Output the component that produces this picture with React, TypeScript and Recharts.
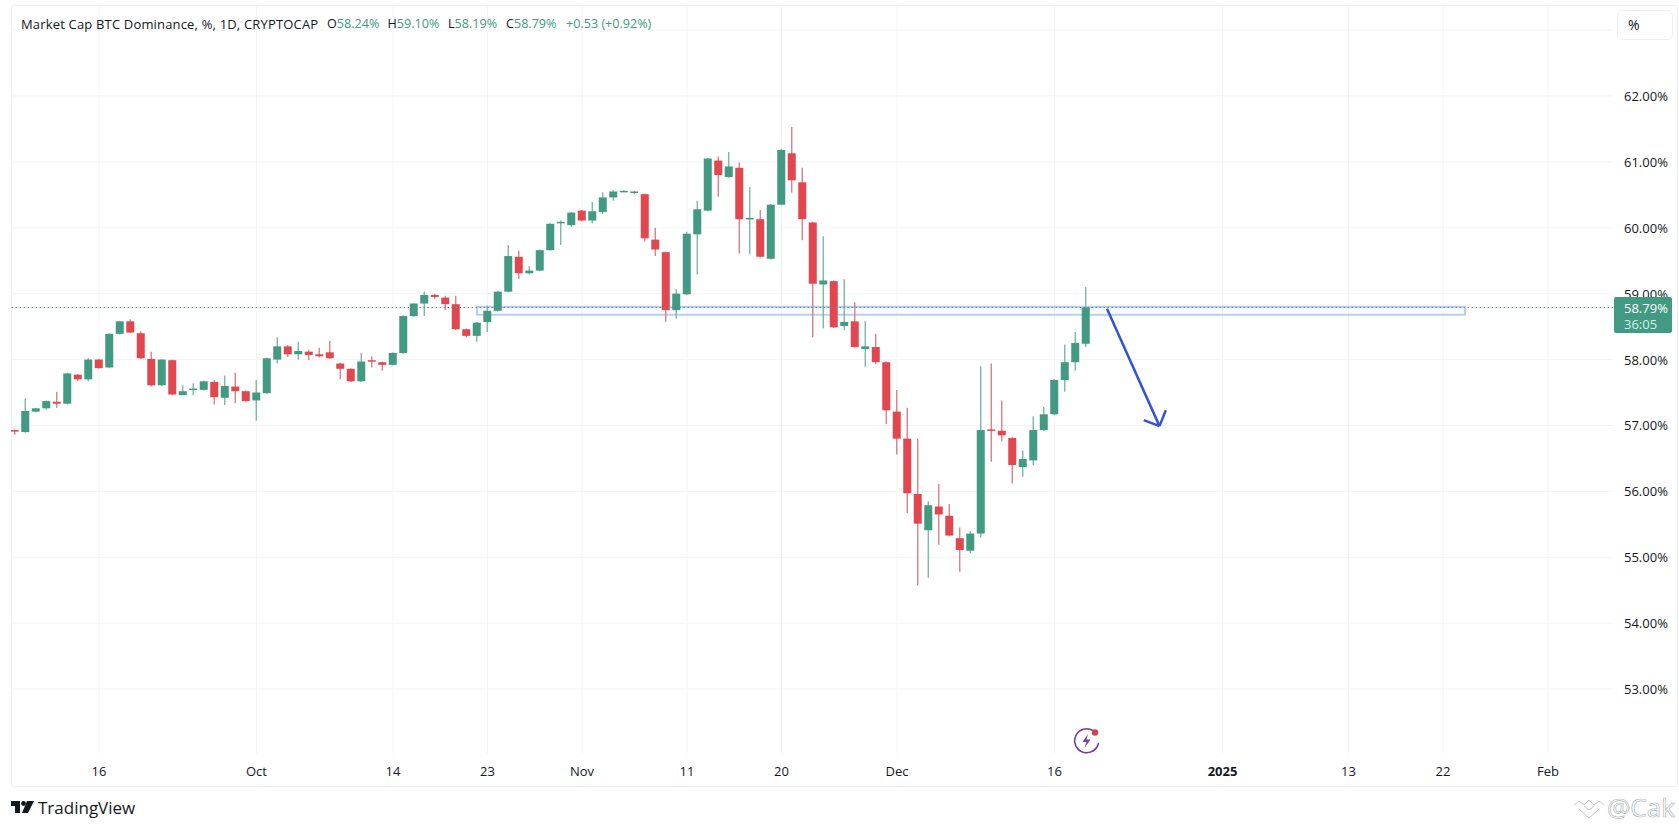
import {
  ComposedChart, Bar, XAxis, YAxis, CartesianGrid, ReferenceLine, ReferenceArea,
} from 'recharts';

// one entry per trading day, starting 8 Sep 2024
const opens = [
  56.93, 56.9, 57.21, 57.26, 57.36, 57.33, 57.77, 57.7, 58.0, 57.88,
  58.39, 58.58, 58.4, 58.01, 57.61, 57.99, 57.46, 57.54, 57.54, 57.66,
  57.42, 57.59, 57.52, 57.38, 57.49, 58.0, 58.2, 58.08, 58.12, 58.08,
  58.11, 57.94, 57.86, 57.67, 57.99, 57.96, 57.92, 58.1, 58.66, 58.85,
  58.98, 58.94, 58.84, 58.46, 58.36, 58.57, 58.74, 59.03, 59.56, 59.31,
  59.35, 59.66, 60.07, 60.04, 60.26, 60.11, 60.24, 60.46, 60.55, 60.53,
  60.51, 59.82, 59.63, 58.75, 58.99, 59.9, 60.26, 61.02, 60.77, 60.91,
  60.13, 60.13, 59.53, 60.35, 61.13, 60.69, 60.08, 59.14, 59.19, 58.51,
  58.58, 58.16, 58.19, 57.96, 57.21, 56.8, 55.96, 55.41, 55.77, 55.63,
  55.29, 55.1, 55.36, 56.94, 56.92, 56.81, 56.37, 56.47, 56.93, 57.17,
  57.69, 57.96, 58.24,
];
const highs = [
  56.94, 57.41, 57.27, 57.38, 57.51, 57.8, 57.78, 58.02, 58.01, 58.4,
  58.59, 58.61, 58.43, 58.12, 58.01, 58.0, 57.61, 57.64, 57.68, 57.69,
  57.76, 57.8, 57.53, 57.69, 58.03, 58.34, 58.22, 58.27, 58.15, 58.18,
  58.28, 57.95, 57.87, 58.1, 58.05, 57.97, 58.11, 58.67, 58.86, 59.03,
  59.0, 58.97, 58.97, 58.47, 58.57, 58.82, 59.04, 59.74, 59.65, 59.42,
  59.67, 60.07, 60.11, 60.24, 60.27, 60.39, 60.54, 60.57, 60.57, 60.56,
  60.52, 60.0, 59.64, 59.07, 59.94, 60.41, 61.06, 61.08, 61.15, 60.99,
  60.62, 60.27, 60.36, 61.19, 61.53, 60.91, 60.09, 59.87, 59.2, 59.22,
  58.87, 58.58, 58.39, 57.97, 57.54, 57.27, 56.8, 55.85, 56.11, 55.81,
  55.45, 55.4, 57.9, 57.94, 57.38, 56.82, 56.62, 57.14, 57.28, 57.7,
  58.23, 58.42, 59.1,
];
const lows = [
  56.86, 56.89, 57.2, 57.24, 57.27, 57.32, 57.67, 57.67, 57.86, 57.87,
  58.38, 58.4, 58.01, 57.59, 57.6, 57.46, 57.46, 57.46, 57.53, 57.32,
  57.31, 57.34, 57.36, 57.07, 57.48, 57.94, 58.04, 58.0, 57.99, 58.03,
  58.01, 57.7, 57.66, 57.66, 57.88, 57.83, 57.91, 58.09, 58.65, 58.66,
  58.92, 58.75, 58.45, 58.34, 58.27, 58.42, 58.73, 59.02, 59.22, 59.29,
  59.34, 59.65, 59.74, 60.01, 60.1, 60.07, 60.21, 60.41, 60.54, 60.51,
  59.79, 59.57, 58.57, 58.62, 58.98, 59.29, 60.25, 60.47, 60.76, 59.61,
  59.6, 59.55, 59.52, 60.34, 60.53, 59.81, 58.34, 58.47, 58.48, 58.45,
  58.18, 57.89, 57.93, 57.02, 56.56, 55.67, 54.57, 54.69, 55.19, 55.32,
  54.78, 55.06, 55.3, 56.45, 56.76, 56.12, 56.22, 56.4, 56.92, 57.16,
  57.51, 57.83, 58.19,
];
const closes = [
  56.92, 57.22, 57.26, 57.37, 57.33, 57.79, 57.7, 58.0, 57.87, 58.39,
  58.58, 58.41, 58.02, 57.61, 58.0, 57.47, 57.52, 57.56, 57.67, 57.43,
  57.6, 57.52, 57.37, 57.5, 58.02, 58.2, 58.08, 58.13, 58.07, 58.05,
  58.02, 57.86, 57.67, 57.97, 57.97, 57.92, 58.1, 58.66, 58.85, 58.98,
  58.95, 58.84, 58.46, 58.36, 58.56, 58.74, 59.03, 59.57, 59.31, 59.35,
  59.66, 60.06, 60.09, 60.23, 60.11, 60.25, 60.46, 60.55, 60.56, 60.55,
  59.84, 59.67, 58.75, 59.0, 59.91, 60.28, 61.05, 60.8, 60.93, 60.13,
  60.15, 59.56, 60.35, 61.18, 60.72, 60.13, 59.15, 59.2, 58.49, 58.57,
  58.19, 58.2, 57.96, 57.23, 56.8, 55.97, 55.51, 55.79, 55.65, 55.33,
  55.11, 55.36, 56.93, 56.93, 56.85, 56.4, 56.49, 56.93, 57.17, 57.69,
  57.96, 58.25, 58.79,
];

const timeTicks = [8, 23, 36, 45, 54, 64, 73, 84, 99, 115, 127, 136, 146];
const timeLabels = ['16', 'Oct', '14', '23', 'Nov', '11', '20', 'Dec', '16', '2025', '13', '22', 'Feb'];
const priceTicks = [53, 54, 55, 56, 57, 58, 59, 60, 61, 62, 63];

const legendKeys = ['O', 'H', 'L', 'C'];
const legendValues = ['58.24%', '59.10%', '58.19%', '58.79%'];
const legendLefts = [327, 387.5, 448, 506];

const lastClose = 58.79;
const zoneX = [44, 138.1];
const zoneY = [58.68, 58.8];
const arrowStart = { x: 104, y: 58.77 };
const arrowTip = { x: 109, y: 56.99 };
const arrowWingA = { x: 107.5, y: 57.08 };
const arrowWingB = { x: 109.6, y: 57.23 };

const UP = '#419a81';
const DOWN = '#e2474f';
const UP_WICK = '#6fb3a0';
const DOWN_WICK = '#d8777e';
const GRID = '#f3f4f6';
const TEXT = '#131722';
const FONT = '"Open Sans", "Noto Sans", sans-serif';

const data = opens.map((open, i) => ({
  i,
  open,
  high: highs[i],
  low: lows[i],
  close: closes[i],
}));

function Candle(props: any) {
  const { x, y, width, height, payload } = props;
  const { open, close, high, low } = payload;
  const perUnit = Math.abs(height) / (high - low);
  const top = y + (high - Math.max(open, close)) * perUnit;
  const bodyHeight = Math.max(Math.abs(open - close) * perUnit, 1.5);
  const up = close >= open;
  const cx = x + width / 2;
  return (
    <g>
      <line x1={cx} x2={cx} y1={y} y2={y + Math.abs(height)} stroke={up ? UP_WICK : DOWN_WICK} strokeWidth={1.3} />
      <rect x={x} y={top} width={width} height={bodyHeight} fill={up ? UP : DOWN} />
    </g>
  );
}

function TimeTick(props: any) {
  const { x, payload } = props;
  const label = timeLabels[timeTicks.indexOf(payload.value)];
  return (
    <text
      x={x}
      y={776}
      textAnchor="middle"
      fontFamily={FONT}
      fontSize={13}
      fontWeight={label === '2025' ? 700 : 400}
      fill={TEXT}
    >
      {label}
    </text>
  );
}

function PriceTick(props: any) {
  const { y, payload } = props;
  if (payload.value === 63) return <g />;
  return (
    <text x={1624} y={y + 5} fontFamily={FONT} fontSize={13} fill={TEXT}>
      {payload.value.toFixed(2)}%
    </text>
  );
}

export default function App() {
  return (
    <div style={{ position: 'absolute', left: 0, top: 0, width: 1679, height: 828, background: '#fff', overflow: 'hidden', fontFamily: FONT }}>
      <div style={{ position: 'absolute', left: 11, top: 5, width: 1667, height: 782, border: '1px solid #eef0f2', borderRadius: 3, boxSizing: 'border-box' }} />
      <div style={{ position: 'absolute', left: 0, top: 0 }}>
        <ComposedChart width={1679} height={828} data={data} margin={{ top: 5, right: 0, bottom: 0, left: 11 }}>
          <CartesianGrid stroke={GRID} strokeWidth={1} syncWithTicks />
          <XAxis
            dataKey="i"
            type="number"
            domain={[-0.381, 152.19]}
            ticks={timeTicks}
            interval={0}
            height={74}
            axisLine={false}
            tickLine={false}
            tick={<TimeTick />}
            allowDataOverflow
          />
          <YAxis
            orientation="right"
            type="number"
            domain={[52.015, 63.38]}
            ticks={priceTicks}
            interval={0}
            width={66}
            axisLine={false}
            tickLine={false}
            tick={<PriceTick />}
            allowDataOverflow
          />
          <ReferenceLine y={lastClose} stroke="#5c8f8f" strokeWidth={1} strokeDasharray="1.5 2.5" />
          <ReferenceArea
            x1={zoneX[0]}
            x2={zoneX[1]}
            y1={zoneY[0]}
            y2={zoneY[1]}
            fill="#dbe5fb"
            fillOpacity={0.1}
            stroke="#bccdf5"
            strokeWidth={2.2}
          />
          <Bar
            dataKey={(d: any) => [d.low, d.high]}
            barSize={8}
            shape={<Candle />}
            isAnimationActive={false}
          />
          <ReferenceLine segment={[arrowStart, arrowTip]} stroke="#2f55d4" strokeWidth={2.5} />
          <ReferenceLine segment={[arrowWingA, arrowTip]} stroke="#2f55d4" strokeWidth={2.5} />
          <ReferenceLine segment={[arrowWingB, arrowTip]} stroke="#2f55d4" strokeWidth={2.5} />
        </ComposedChart>
      </div>

      <div style={{ position: 'absolute', left: 21, top: 15, fontSize: 13, lineHeight: '18px', letterSpacing: 0.17, color: TEXT, whiteSpace: 'nowrap' }}>
        Market Cap BTC Dominance, %, 1D, CRYPTOCAP
      </div>
      {legendKeys.map((key, i) => (
        <div key={key} style={{ position: 'absolute', left: legendLefts[i], top: 15, fontSize: 12.6, lineHeight: '18px', whiteSpace: 'nowrap', color: TEXT }}>
          {key}<span style={{ color: UP }}>{legendValues[i]}</span>
        </div>
      ))}
      <div style={{ position: 'absolute', left: 566, top: 15, fontSize: 12.6, lineHeight: '18px', whiteSpace: 'nowrap', color: UP }}>
        +0.53 (+0.92%)
      </div>

      <div style={{ position: 'absolute', left: 1617, top: 10, width: 56, height: 30, border: '1px solid #eef0f2', borderRadius: 5, boxSizing: 'border-box', fontSize: 14, lineHeight: '28px', paddingLeft: 10, color: TEXT }}>
        %
      </div>

      <div style={{ position: 'absolute', left: 1614, top: 297, width: 58, height: 36, background: UP, borderRadius: 2, color: '#fff', fontSize: 13, lineHeight: '16px', paddingTop: 3, paddingLeft: 10, boxSizing: 'border-box' }}>
        <div>58.79%</div>
        <div style={{ color: '#d7efe8' }}>36:05</div>
      </div>

      <svg style={{ position: 'absolute', left: 1072, top: 726 }} width={30} height={30} viewBox="0 0 30 30">
        <path d="M21 4.5 A12 12 0 1 0 26.5 17" fill="none" stroke="#7a3f98" strokeWidth={1.6} />
        <path d="M16 8 L10.5 16 L14.5 16 L12.5 22 L18.5 13.5 L14.5 13.5 Z" fill="#7a3f98" />
        <circle cx={23} cy={6.5} r={3.2} fill="#d0434c" />
      </svg>

      <svg style={{ position: 'absolute', left: 11, top: 801 }} width={24} height={13} viewBox="0 0 24 13">
        <path d="M0 0 H9 V12 H4 V5 H0 Z" fill="#131722" />
        <circle cx={12.5} cy={2.5} r={2.4} fill="#131722" />
        <path d="M16 0 H23 L17 12 H11 Z" fill="#131722" />
      </svg>
      <div style={{ position: 'absolute', left: 38, top: 796, fontSize: 17, lineHeight: '24px', color: TEXT }}>TradingView</div>

      <svg style={{ position: 'absolute', left: 1573, top: 796 }} width={32} height={24} viewBox="0 0 32 24" fill="none" stroke="#c4c7cc" strokeWidth={1}>
        <path d="M1 9 L6 5 L11 9 L16 4 L21 9 L26 5 L31 9" />
        <path d="M6 13 L16 22 L26 13" />
        <path d="M11 10 L16 14 L21 10" />
      </svg>
      <div style={{ position: 'absolute', left: 1607, top: 791, fontSize: 26, lineHeight: '32px', color: '#fff', WebkitTextStroke: '0.7px #b5b8bd', fontFamily: '"Open Sans", sans-serif' }}>@Cak</div>
    </div>
  );
}
